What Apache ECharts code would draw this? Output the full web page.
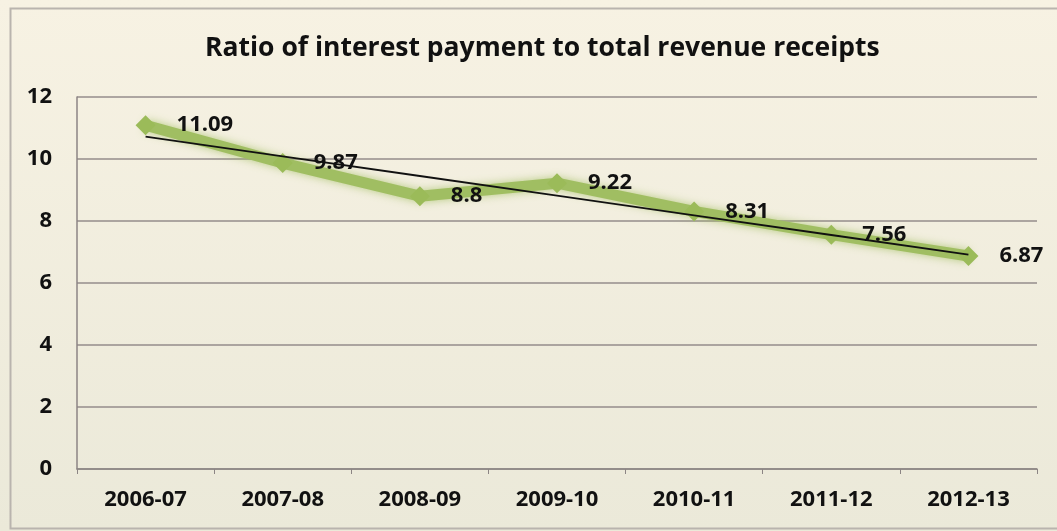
<!DOCTYPE html>
<html><head><meta charset="utf-8">
<script src="https://cdn.jsdelivr.net/npm/echarts@6/dist/echarts.min.js"></script>
<style>html,body{margin:0;padding:0;background:#fff}#c{width:1057px;height:531px}</style>
</head><body><div id="c"></div>
<script>
const titleText = 'Ratio of interest payment to total revenue receipts';
const categories = ['2006-07','2007-08','2008-09','2009-10','2010-11','2011-12','2012-13'];
const ratioValues = [11.09, 9.87, 8.8, 9.22, 8.31, 7.56, 6.87];
const yTicks = [0, 2, 4, 6, 8, 10, 12];

// linear (least squares) trendline, as the source spreadsheet draws it
const n = ratioValues.length;
const mx = (n - 1) / 2;
const my = ratioValues.reduce((a, b) => a + b, 0) / n;
let sxy = 0, sxx = 0;
ratioValues.forEach((v, i) => { sxy += (i - mx) * (v - my); sxx += (i - mx) * (i - mx); });
const slope = sxy / sxx;
const trend = ratioValues.map((v, i) => +(my + slope * (i - mx)).toFixed(3));

const font = '"Open Sans", "Liberation Sans", sans-serif';
const chart = echarts.init(document.getElementById('c'));
chart.setOption({
  animation: false,
  backgroundColor: {
    type: 'linear', x: 0, y: 0, x2: 0, y2: 1,
    colorStops: [{offset: 0, color: '#f7f2e3'}, {offset: 1, color: '#ebe9d9'}]
  },
  graphic: [{
    type: 'rect', left: 8, top: 6, shape: {width: 1060, height: 520},
    style: {fill: 'none', stroke: '#b9b4ae', lineWidth: 2}, silent: true
  }],
  title: {
    text: titleText, left: 200, top: 30,
    textStyle: {fontFamily: font, fontWeight: 'bold', fontSize: 26.5, color: '#111'}
  },
  grid: {left: 77, right: 20, top: 97, bottom: 62},
  xAxis: {
    type: 'category', data: categories, boundaryGap: true,
    axisLine: {lineStyle: {color: '#8c8584', width: 1.5}},
    axisTick: {show: true, length: 5, lineStyle: {color: '#8c8584'}},
    axisLabel: {fontFamily: font, fontWeight: 'bold', fontSize: 22, color: '#111', margin: 20}
  },
  yAxis: {
    type: 'value', min: yTicks[0], max: yTicks[yTicks.length - 1], interval: 2,
    axisLine: {show: true, lineStyle: {color: '#8c8584', width: 1.5}},
    axisTick: {show: false},
    axisLabel: {fontFamily: font, fontWeight: 'bold', fontSize: 22, color: '#111', margin: 25},
    splitLine: {lineStyle: {color: '#948d8b', width: 1.5}}
  },
  series: [{
    type: 'line', data: ratioValues,
    lineStyle: {color: '#a0be62', width: 11, shadowColor: 'rgba(155,187,89,0.7)', shadowBlur: 8},
    itemStyle: {color: '#9bbb59'},
    symbol: 'diamond', symbolSize: 20,
    label: {show: true, position: 'right', distance: 21,
      fontFamily: font, fontWeight: 'bold', fontSize: 22, color: '#111'},
    z: 2
  }, {
    type: 'line', data: trend, symbol: 'none',
    lineStyle: {color: '#111', width: 1.8},
    z: 3, silent: true
  }]
});
</script></body></html>
